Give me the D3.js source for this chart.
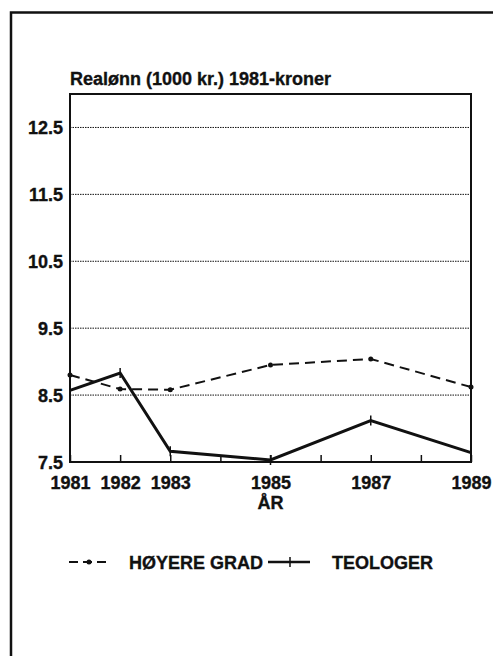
<!DOCTYPE html>
<html><head><meta charset="utf-8">
<script src="https://cdn.jsdelivr.net/npm/d3@7/dist/d3.min.js"></script>
<style>
html,body{margin:0;padding:0;background:#fff;}
svg{display:block;}
text{font-family:"Liberation Sans",Arial,Helvetica,sans-serif;font-weight:bold;fill:#111;stroke:#111;stroke-width:0.35px;}
</style></head>
<body>
<svg id="chart" width="493" height="656"></svg>
<script>
const years = [1981, 1982, 1983, 1985, 1987, 1989];
const hoyereGrad = [8.80, 8.59, 8.58, 8.95, 9.04, 8.62];
const teologer = [8.57, 8.83, 7.66, 7.53, 8.12, 7.64];
const yTicks = [7.5, 8.5, 9.5, 10.5, 11.5, 12.5];
const xTickYears = [1981, 1982, 1983, 1984, 1985, 1986, 1987, 1988, 1989];
const xLabelYears = [1981, 1982, 1983, 1985, 1987, 1989];
const title = "Realønn (1000 kr.) 1981-kroner";
const xTitle = "ÅR";
const seriesNames = ["HØYERE GRAD", "TEOLOGER"];

const svg = d3.select("#chart");
const ink = "#111";

// outer frame
svg.append("path").attr("d","M11,660 L11,12.5 L500,12.5")
  .attr("fill","none").attr("stroke",ink).attr("stroke-width",2.5);

const L=70, R=471, T=94, B=462;
const x = d3.scaleLinear().domain([1981,1989]).range([L,R]);
const y = d3.scaleLinear().domain([7.5,13.0]).range([B,T]);

// gridlines
svg.append("g").selectAll("line").data(yTicks.filter(v=>v>7.5)).join("line")
  .attr("x1",L).attr("x2",R).attr("y1",d=>y(d)).attr("y2",d=>y(d))
  .attr("stroke",ink).attr("stroke-width",1).attr("stroke-dasharray","1.5,1");

// plot box
svg.append("rect").attr("x",L).attr("y",T).attr("width",R-L).attr("height",B-T)
  .attr("fill","none").attr("stroke",ink).attr("stroke-width",2);

// y labels
const yAxis = d3.axisLeft(y).tickValues(yTicks).tickSize(0).tickPadding(7).tickFormat(d3.format(".1f"));
const gy = svg.append("g").attr("transform",`translate(${L},0)`).call(yAxis);
gy.select(".domain").remove();
gy.selectAll("text").style("font-size","18px").attr("fill",ink).attr("dy","0.34em");

// x axis ticks (inward) and labels
const xAxis = d3.axisBottom(x).tickValues(xTickYears).tickSizeInner(-7).tickSizeOuter(0)
  .tickFormat(d=> xLabelYears.includes(d) ? String(d) : "").tickPadding(14);
const gx = svg.append("g").attr("transform",`translate(0,${B})`).call(xAxis);
gx.select(".domain").remove();
gx.selectAll("line").attr("stroke",ink).attr("stroke-width",1.5);
gx.selectAll("text").style("font-size","18px").attr("fill",ink);

// titles
svg.append("text").attr("x",L).attr("y",85).style("font-size","18px").text(title);
svg.append("text").attr("x",(L+R)/2).attr("y",509).attr("text-anchor","middle").style("font-size","18px").text(xTitle);

// lines
const line = d3.line().x((d,i)=>x(years[i])).y(d=>y(d));
svg.append("path").datum(hoyereGrad).attr("d",line).attr("fill","none")
  .attr("stroke",ink).attr("stroke-width",2).attr("stroke-dasharray","10,6");
svg.append("g").selectAll("circle").data(hoyereGrad).join("circle")
  .attr("cx",(d,i)=>x(years[i])).attr("cy",d=>y(d)).attr("r",2.5).attr("fill",ink);

svg.append("path").datum(teologer).attr("d",line).attr("fill","none")
  .attr("stroke",ink).attr("stroke-width",3).attr("stroke-linejoin","miter");
svg.append("g").selectAll("line").data(teologer).join("line")
  .attr("x1",(d,i)=>x(years[i])).attr("x2",(d,i)=>x(years[i]))
  .attr("y1",d=>y(d)-5).attr("y2",d=>y(d)+5).attr("stroke",ink).attr("stroke-width",1.5);

// legend
const ly = 562;
const lg = svg.append("g");
lg.append("line").attr("x1",68).attr("x2",106).attr("y1",ly).attr("y2",ly)
  .attr("stroke",ink).attr("stroke-width",2).attr("stroke-dasharray","9,5").attr("stroke-dashoffset","-1");
lg.append("circle").attr("cx",89).attr("cy",ly).attr("r",2.5).attr("fill",ink);
lg.append("text").attr("x",129).attr("y",ly+6.5).style("font-size","18px").text(seriesNames[0]);
lg.append("line").attr("x1",268).attr("x2",310).attr("y1",ly).attr("y2",ly)
  .attr("stroke",ink).attr("stroke-width",2.5);
lg.append("line").attr("x1",290).attr("x2",290).attr("y1",ly-5).attr("y2",ly+5)
  .attr("stroke",ink).attr("stroke-width",1.5);
lg.append("text").attr("x",332).attr("y",ly+6.5).style("font-size","18px").text(seriesNames[1]);
</script>
</body></html>
